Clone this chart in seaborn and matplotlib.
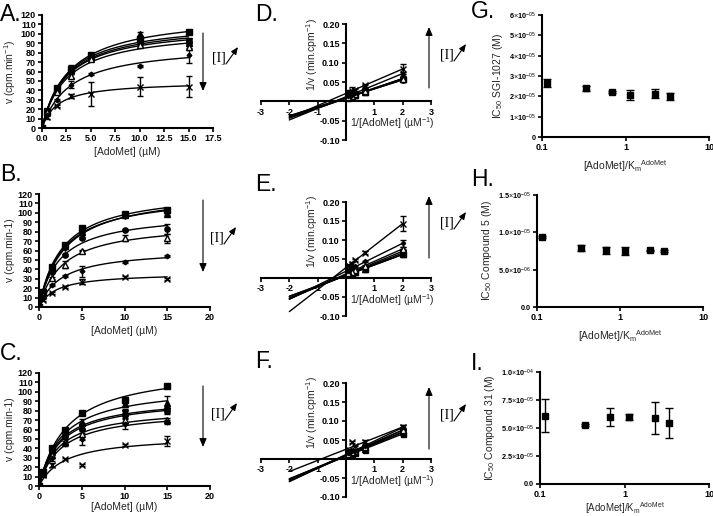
import numpy as np
import matplotlib
matplotlib.use("Agg")
import matplotlib.pyplot as plt
from matplotlib.patches import FancyArrowPatch
import seaborn as sns

# --- data ---
conc = [0, 0.5, 1.5, 3, 5, 10, 15]   # [AdoMet] (uM)
markers = ['s', '^', 'v', 'o', '^', 'D', 'x']
open_marker = [False, False, False, False, True, False, False]

a_rates = [[0, 17, 42, 63, 78, 95, 102],
           [0, 17, 41, 62, 76, 100, 90],
           [0, 18, 40, 60, 75, 93, 92],
           [0, 18, 40, 59, 74, 90, 91],
           [0, 17, 38, 55, 73, 88, 86],
           [0, 14, 30, 46, 57, 66, 77],
           [0, 12, 23, 34, 36, 44, 44]]
a_err = [[0, 1, 1, 4, 2, 1, 1],
         [0, 1, 1, 2, 2, 2, 2],
         [0, 1, 1, 2, 1, 1, 1],
         [0, 1, 1, 2, 1, 1, 1],
         [0, 1, 1, 2, 1, 1, 3],
         [0, 1, 1, 4, 1, 1, 8],
         [0, 2, 1, 2, 13, 10, 11]]

b_rates = [[0, 16, 43, 66, 84, 99, 103],
           [0, 16, 42, 65, 80, 98, 99],
           [0, 15, 40, 63, 79, 97, 101],
           [0, 14, 37, 55, 73, 82, 83],
           [0, 13, 31, 45, 60, 73, 73],
           [0, 11, 23, 33, 38, 48, 54],
           [0, 7, 15, 21, 27, 32, 30]]
b_err = [[0, 1, 1, 1, 1, 1, 1],
         [0, 1, 1, 1, 1, 1, 1],
         [0, 1, 1, 1, 1, 1, 1],
         [0, 1, 1, 1, 1, 1, 5],
         [0, 1, 1, 4, 1, 3, 5],
         [0, 1, 1, 1, 6, 1, 1],
         [0, 1, 1, 1, 3, 1, 1]]

c_rates = [[0, 15, 40, 60, 78, 91, 106],
           [0, 14, 38, 57, 68, 87, 88],
           [0, 14, 36, 55, 63, 78, 80],
           [0, 13, 35, 53, 61, 75, 80],
           [0, 13, 33, 47, 55, 70, 70],
           [0, 12, 30, 45, 50, 66, 68],
           [0, 12, 22, 29, 22, 44, 48]]
c_err = [[0, 1, 1, 2, 1, 3, 2],
         [0, 1, 2, 3, 3, 3, 8],
         [0, 1, 2, 3, 4, 4, 4],
         [0, 1, 2, 2, 3, 3, 3],
         [0, 1, 3, 3, 6, 4, 2],
         [0, 1, 3, 3, 6, 5, 2],
         [0, 1, 2, 1, 1, 1, 5]]

ratio = [0.114, 0.34, 0.68, 1.14, 2.27, 3.4]   # [AdoMet]/Km
g_ic50 = [2.65e-5, 2.4e-5, 2.22e-5, 2.05e-5, 2.12e-5, 2.0e-5]
g_err = [0.2e-5, 0.12e-5, 0.05e-5, 0.25e-5, 0.22e-5, 0.18e-5]
h_ic50 = [9.4e-6, 7.9e-6, 7.6e-6, 7.5e-6, 7.6e-6, 7.5e-6]
h_err = [0.1e-6, 0.35e-6, 0.5e-6, 0.55e-6, 0.1e-6, 0.1e-6]
i_ic50 = [6.1e-5, 5.3e-5, 6.0e-5, 6.0e-5, 5.9e-5, 5.45e-5]
i_err = [1.45e-5, 0.1e-5, 0.8e-5, 0.25e-5, 1.4e-5, 1.3e-5]

W, H = 713, 516
TICK_FS = 6.5
LABEL_FS = 7.5

sns.set_theme(style="ticks")
plt.rcParams['font.family'] = ['Liberation Sans', 'DejaVu Sans']
plt.rcParams['mathtext.fontset'] = 'custom'
plt.rcParams['mathtext.rm'] = 'Liberation Sans'
plt.rcParams['mathtext.it'] = 'Liberation Sans:italic'
plt.rcParams['mathtext.bf'] = 'Liberation Sans:bold'
plt.rcParams['mathtext.default'] = 'rm'

fig = plt.figure(figsize=(W / 100, H / 100), dpi=100)


def make_axes(x0, x1, y0, y1):
    # pixel box of the plotting area -> figure fraction
    return fig.add_axes([x0 / W, 1 - y1 / H, (x1 - x0) / W, (y1 - y0) / H])


def style_axes(ax):
    for side in ['top', 'right']:
        ax.spines[side].set_visible(False)
    for side in ['left', 'bottom']:
        ax.spines[side].set_linewidth(1.5)
        ax.spines[side].set_color('black')
    ax.tick_params(direction='out', length=3, width=1.2, colors='black',
                   labelsize=TICK_FS, pad=1.5)
    ax.set_facecolor('none')


def bold_ticks(ax):
    for lbl in ax.get_xticklabels() + ax.get_yticklabels():
        lbl.set_fontweight('bold')


def mm_fit(s, v):
    # least squares Michaelis-Menten fit (grid over Km, Vmax closed form)
    best = None
    for km in np.linspace(0.2, 10, 981):
        f = s / (km + s)
        vmax = (f * v).sum() / (f * f).sum()
        sse = ((v - vmax * f) ** 2).sum()
        if best is None or sse < best[0]:
            best = (sse, vmax, km)
    return best[1], best[2]


def draw_points(ax, x, y, e, i, ms_scale=1.0):
    ms = {'s': 4.0, '^': 4.3, 'v': 4.3, 'o': 3.8, 'D': 2.4, 'x': 4.3}[markers[i]] * ms_scale
    ax.errorbar(x, y, yerr=e, fmt=markers[i], ms=ms, color='black',
                mfc='white' if open_marker[i] else 'black', mec='black',
                mew=1.0, ecolor='black', elinewidth=1.0, capsize=2.5,
                capthick=1.0, zorder=3)


def mm_panel(ax, rates, errs, xmax, xstep, xfmt):
    s = np.array(conc, float)
    s_fit = np.linspace(0, 15, 200)
    for i, (v, e) in enumerate(zip(rates, errs)):
        v = np.array(v, float)
        vmax, km = mm_fit(s, v)
        sns.lineplot(x=s_fit, y=vmax * s_fit / (km + s_fit), ax=ax,
                     color='black', lw=1.0, zorder=2)
        draw_points(ax, s, v, e, i)
    style_axes(ax)
    ax.set_xlim(0, xmax)
    ax.set_ylim(0, 120)
    ax.set_xticks(np.arange(0, xmax + 0.01, xstep))
    ax.set_xticklabels([xfmt.format(t) for t in np.arange(0, xmax + 0.01, xstep)])
    ax.set_yticks(np.arange(0, 121, 10))
    ax.set_yticklabels([str(t) for t in range(0, 121, 10)])
    ax.set_xlabel('[AdoMet] (µM)', fontsize=LABEL_FS, labelpad=3)
    bold_ticks(ax)


def lb_panel(ax, rates, errs):
    s = np.array(conc[1:], float)
    xs = np.array([-2.0, 2.0])
    for i, (v, e) in enumerate(zip(rates, errs)):
        v = np.array(v[1:], float)
        e = np.array(e[1:], float)
        inv_s, inv_v = 1 / s, 1 / v
        slope, icpt = np.polyfit(inv_s, inv_v, 1)
        sns.lineplot(x=xs, y=slope * xs + icpt, ax=ax, color='black',
                     lw=1.0, zorder=2)
        draw_points(ax, inv_s, inv_v, e / v ** 2, i, ms_scale=0.9)
    for side in ['top', 'right']:
        ax.spines[side].set_visible(False)
    for side in ['left', 'bottom']:
        ax.spines[side].set_position(('data', 0))
        ax.spines[side].set_linewidth(1.5)
        ax.spines[side].set_color('black')
    ax.tick_params(direction='out', length=3, width=1.2, colors='black',
                   labelsize=TICK_FS, pad=1.5)
    ax.set_facecolor('none')
    ax.set_xlim(-3, 3)
    ax.set_ylim(-0.10, 0.20)
    xt = [-3, -2, -1, 1, 2, 3]
    ax.set_xticks(xt)
    ax.set_xticklabels([str(t) for t in xt])
    yt = [-0.10, -0.05, 0.05, 0.10, 0.15, 0.20]
    ax.set_yticks(yt)
    ax.set_yticklabels(['{:.2f}'.format(t) for t in yt])
    ax.set_ylabel('1/v (min.cpm$^{-1}$)', fontsize=LABEL_FS)
    ax.yaxis.set_label_coords(0.35, 0.74)
    ax.set_xlabel('1/[AdoMet] (µM$^{-1}$)', fontsize=LABEL_FS)
    ax.xaxis.set_label_coords(0.77, 0.21)
    bold_ticks(ax)


def ic50_panel(ax, vals, errs, ymax, yticks, ylabels, ylabel, xpad=4, xfs=LABEL_FS):
    ax.errorbar(ratio, vals, yerr=errs, fmt='s', ms=4.5, color='black',
                mfc='black', mec='black', ecolor='black', elinewidth=1.0,
                capsize=3, capthick=1.0, zorder=3)
    style_axes(ax)
    ax.set_xscale('log')
    ax.set_xlim(0.1, 10)
    ax.set_ylim(0, ymax)
    ax.set_xticks([0.1, 1, 10])
    ax.set_xticklabels(['0.1', '1', '10'])
    ax.minorticks_off()
    ax.set_yticks(yticks)
    ax.set_yticklabels(ylabels, fontsize=5.2)
    ax.set_ylabel(ylabel, fontsize=LABEL_FS, labelpad=3)
    ax.set_xlabel('[AdoMet]/K$_{m}$$^{AdoMet}$', fontsize=xfs, labelpad=xpad)
    bold_ticks(ax)


def fig_arrow(x0, y0, x1, y1, head=(3.5, 5.5)):
    # arrow between two figure pixel positions, drawn above all axes
    arr = FancyArrowPatch((x0 / W, 1 - y0 / H), (x1 / W, 1 - y1 / H),
                          transform=fig.transFigure,
                          arrowstyle='-|>,head_width={},head_length={}'.format(head[0] / 2.0 * 0.72, head[1] * 0.72),
                          mutation_scale=1, color='black', lw=0.8,
                          shrinkA=0, shrinkB=0, zorder=5)
    fig.add_artist(arr)


def inhibitor_marks(x_arrow, y_start, y_end, x_text, y_text):
    # vertical arrow + "[I]" with small diagonal arrow
    fig_arrow(x_arrow, y_start, x_arrow, y_end, head=(6, 7))
    fig.text(x_text / W, 1 - y_text / H, '[I]', family='Liberation Serif',
             fontsize=10, ha='left', va='center', color='black')
    fig_arrow(x_text + 14, y_text + 6, x_text + 26, y_text - 11, head=(5, 6))


# --- column 1: Michaelis-Menten ---
ax_a = make_axes(42, 213, 15, 128)
mm_panel(ax_a, a_rates, a_err, 17.5, 2.5, '{:.1f}')
ax_a.set_ylabel('v (cpm.min$^{-1}$)', fontsize=LABEL_FS, labelpad=2)

ax_b = make_axes(39, 210, 194, 307)
mm_panel(ax_b, b_rates, b_err, 20, 5, '{:.0f}')
ax_b.set_ylabel('v (cpm.min-1)', fontsize=LABEL_FS, labelpad=2)

ax_c = make_axes(39, 210, 373, 486)
mm_panel(ax_c, c_rates, c_err, 20, 5, '{:.0f}')
ax_c.set_ylabel('v (cpm.min-1)', fontsize=LABEL_FS, labelpad=2)
ax_c.xaxis.labelpad = 0.5

# --- column 2: Lineweaver-Burk ---
lb_panel(make_axes(261, 431, 24, 140), a_rates, a_err)
lb_panel(make_axes(261, 431, 202, 316), b_rates, b_err)
lb_panel(make_axes(261, 431, 383, 497), c_rates, c_err)

# --- column 3: IC50 vs [AdoMet]/Km ---
ic50_panel(make_axes(542, 709, 15, 137), g_ic50, g_err, 6e-5,
           [i * 1e-5 for i in range(7)],
           ['0'] + ['{}$\\times$10$^{{-05}}$'.format(i) for i in range(1, 7)],
           'IC$_{50}$ SGI-1027 (M)')
ic50_panel(make_axes(537, 703, 195, 307), h_ic50, h_err, 1.5e-5,
           [0, 5e-6, 1e-5, 1.5e-5],
           ['0.0', '5.0$\\times$10$^{-06}$', '1.0$\\times$10$^{-05}$', '1.5$\\times$10$^{-05}$'],
           'IC$_{50}$ Compound 5 (M)')
ic50_panel(make_axes(540, 709, 372, 484), i_ic50, i_err, 1e-4,
           [0, 2.5e-5, 5e-5, 7.5e-5, 1e-4],
           ['0.0', '2.5$\\times$10$^{-05}$', '5.0$\\times$10$^{-05}$',
            '7.5$\\times$10$^{-05}$', '1.0$\\times$10$^{-04}$'],
           'IC$_{50}$ Compound 31 (M)', xpad=0.5, xfs=7)

# --- inhibitor arrows ---
inhibitor_marks(203, 33, 91, 212, 58)
inhibitor_marks(203, 200, 272, 210, 238)
inhibitor_marks(203, 386, 447, 211, 414)
inhibitor_marks(429, 88, 27, 440, 55)
inhibitor_marks(429, 258, 196, 440, 223)
inhibitor_marks(429, 449, 387, 440, 415)

# --- panel letters ---
letters = [('A.', 0, 3), ('B.', 0, 163), ('C.', 0, 342),
           ('D.', 255, 3), ('E.', 255, 173), ('F.', 255, 350),
           ('G.', 471, 0), ('H.', 471, 168), ('I.', 471, 352)]
for txt, px, py in letters:
    fig.text(px / W, 1 - py / H, txt, fontsize=16.5, ha='left', va='top',
             color='black')

fig.savefig('out.png', dpi=100, facecolor='white')
